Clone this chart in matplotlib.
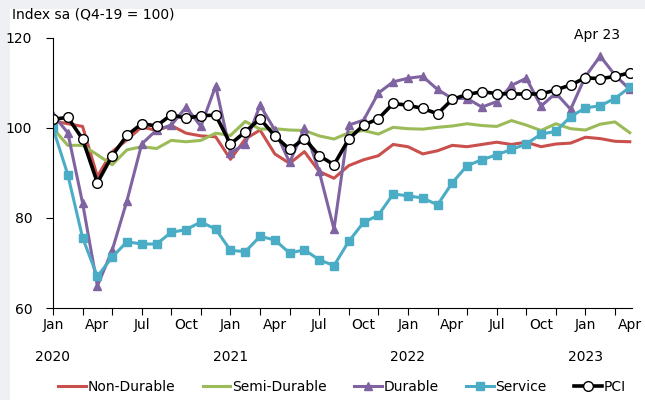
import numpy as np
from matplotlib import pyplot as plt
from matplotlib.patches import Rectangle
import matplotlib.transforms as mtransforms

# monthly index, Jan 2020 .. Apr 2023 (Q4-19 = 100)
months = ['Jan', 'Feb', 'Mar', 'Apr', 'May', 'Jun', 'Jul', 'Aug', 'Sep', 'Oct', 'Nov', 'Dec']
years = ['2020', '2021', '2022', '2023']

non_durable = [101.5, 100.9, 100.3, 89.2, 94.7, 97.3, 100.2, 99.4, 100.5, 98.8,
               98.2, 98.0, 93.0, 97.5, 99.5, 94.2, 92.1, 94.7, 90.3, 88.8,
               91.6, 92.9, 93.8, 96.3, 95.8, 94.2, 94.9, 96.1, 95.8, 96.3,
               96.8, 96.3, 96.8, 95.8, 96.4, 96.6, 97.9, 97.6, 97.0, 96.9]
semi_durable = [99.9, 96.1, 96.1, 94.0, 91.8, 95.1, 95.8, 95.4, 97.2, 96.9,
                97.2, 98.8, 98.3, 101.4, 99.7, 99.8, 99.5, 99.4, 98.2, 97.5,
                98.9, 99.4, 98.6, 100.1, 99.8, 99.7, 100.1, 100.4, 100.9, 100.5,
                100.3, 101.6, 100.6, 99.4, 100.9, 99.8, 99.5, 100.8, 101.3, 98.9]
durable = [102.9, 98.9, 83.3, 64.9, 72.8, 83.8, 96.4, 99.5, 100.6, 104.6,
           100.3, 109.3, 94.4, 96.4, 105.0, 99.5, 92.3, 99.9, 90.3, 77.5,
           100.6, 101.7, 107.7, 110.2, 111.0, 111.4, 108.5, 106.5, 106.5, 104.6,
           105.8, 109.4, 111.0, 104.8, 107.7, 104.1, 111.4, 115.9, 111.7, 108.5]
service = [99.9, 89.6, 75.6, 67.0, 71.3, 74.7, 74.2, 74.2, 76.8, 77.4,
           79.1, 77.5, 72.8, 72.5, 75.9, 75.1, 72.2, 72.9, 70.7, 69.4,
           74.8, 79.0, 80.6, 85.3, 84.9, 84.4, 82.9, 87.8, 91.6, 92.9,
           94.0, 95.2, 96.4, 98.6, 99.2, 102.5, 104.4, 104.9, 106.5, 109.0]
pci = [101.9, 102.3, 97.5, 87.8, 93.8, 98.3, 100.9, 100.4, 102.9, 102.1,
       102.7, 102.8, 96.4, 99.1, 102.0, 98.2, 95.2, 97.6, 93.8, 91.8,
       97.5, 100.6, 102.0, 105.4, 105.0, 104.3, 103.1, 106.3, 107.4, 108.0,
       107.6, 107.5, 107.5, 107.5, 108.4, 109.5, 111.1, 110.9, 111.4, 112.2]

x = np.arange(len(pci))

plt.rcParams['font.family'] = ['DejaVu Sans']
fig = plt.figure(figsize=(6.45, 4.0), dpi=100, facecolor='#eef0f3')
# white card over the grey page, kept behind the axes
fig.patches.append(Rectangle((10 / 645, 0), 1, 1 - 9 / 400, transform=fig.transFigure,
                             facecolor='white', edgecolor='none', zorder=-5))
ax = fig.add_axes([53 / 645, 0.23, 579 / 645, 0.6758])
ax.set_facecolor('white')

ax.plot(x, non_durable, color='#c9504c', lw=2.2, label='Non-Durable')
ax.plot(x, semi_durable, color='#9bbb59', lw=2.2, label='Semi-Durable')
ax.plot(x, durable, color='#8064a2', lw=2.2, marker='^', ms=6, label='Durable')
ax.plot(x, service, color='#4bacc6', lw=2.2, marker='s', ms=6, label='Service')
ax.plot(x, pci, color='black', lw=2.6, marker='o', ms=7, mfc='white', mec='black',
        mew=1.0, label='PCI')

ax.set_xlim(0, 39.15)
ax.set_ylim(60, 120)
ax.set_yticks([60, 80, 100, 120])
ax.tick_params(axis='y', length=5, pad=10, labelsize=10, direction='out')
ax.spines['top'].set_visible(False)
ax.spines['right'].set_visible(False)

# tick marks every 2 months, labels every 3 months
ax.xaxis.remove_overlapping_locs = False
ax.set_xticks(x[::2])
ax.set_xticklabels([])
ax.set_xticks(x[::3], minor=True)
ax.set_xticklabels([months[i % 12] for i in x[::3]], minor=True)
ax.tick_params(axis='x', which='major', length=5, direction='out')
ax.tick_params(axis='x', which='minor', length=0, pad=7, labelsize=10)

trans = mtransforms.blended_transform_factory(ax.transData, ax.transAxes)
for k, yr in enumerate(years):
    ax.text(k * 12, -0.18, yr, transform=trans, ha='center', va='center', fontsize=10)

ax.text(36.8, 120.6, 'Apr 23', ha='center', va='center', fontsize=10, clip_on=False)
fig.text(12 / 645, 1 - 15 / 400, 'Index sa (Q4-19 = 100)', ha='left', va='center', fontsize=10)

fig.legend(loc='center', bbox_to_anchor=(0.53, 0.033), ncol=5, frameon=False,
           fontsize=10, handlelength=2.0, handletextpad=0.1, columnspacing=2.0)

fig.savefig('out.png', dpi=100, facecolor=fig.get_facecolor())
